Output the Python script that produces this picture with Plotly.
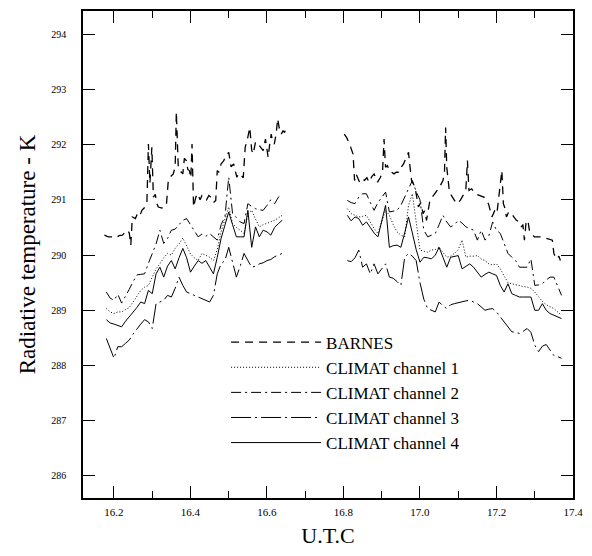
import plotly.graph_objects as go

# UTC hours, CLIMAT channels sampled every 0.01 h on two passes
climat_x_left = [round(16.18 + 0.01 * i, 2) for i in range(47)]
climat_x_right = [round(16.81 + 0.01 * i, 2) for i in range(57)]

ch1_left = [289.03, 288.97, 288.94, 288.97, 288.97, 289.01, 289.05, 289.15, 289.25, 289.36,
            289.42, 289.45, 289.60, 289.75, 289.84, 289.95, 290.03, 290.00, 290.12, 290.20,
            290.31, 290.15, 290.02, 289.95, 289.90, 290.03, 290.00, 289.96, 289.90, 290.10,
            290.42, 290.65, 290.87, 290.57, 290.50, 290.45, 290.39, 290.75, 290.81, 290.65,
            290.51, 290.55, 290.57, 290.60, 290.63, 290.68, 290.72]
ch2_left = [289.33, 289.22, 289.18, 289.29, 289.13, 289.25, 289.38, 289.52, 289.64, 289.65,
            289.66, 289.85, 290.02, 290.20, 290.45, 290.21, 290.30, 290.45, 290.47, 290.55,
            290.63, 290.66, 290.55, 290.42, 290.33, 290.38, 290.34, 290.39, 290.33, 290.27,
            290.55, 290.69, 291.41, 290.75, 290.68, 290.60, 290.57, 290.93, 290.88, 290.84,
            290.82, 290.81, 290.90, 291.00, 290.93, 291.05, 291.11]
ch3_left = [288.49, 288.31, 288.13, 288.34, 288.34, 288.40, 288.46, 288.57, 288.67, 288.75,
            288.83, 288.79, 288.67, 289.12, 289.15, 289.18, 289.27, 289.24, 289.40, 289.60,
            289.45, 289.33, 289.30, 289.27, 289.24, 289.21, 289.18, 289.15, 289.27, 289.66,
            289.84, 289.90, 290.14, 289.85, 289.60, 289.80, 290.03, 289.90, 289.78, 289.80,
            289.84, 289.86, 289.90, 289.92, 289.97, 290.00, 290.03]
ch4_left = [288.83, 288.77, 288.75, 288.72, 288.70, 288.80, 288.88, 288.97, 289.05, 289.15,
            289.12, 289.36, 289.30, 289.66, 289.78, 289.60, 289.80, 289.90, 289.75, 289.95,
            290.12, 289.95, 289.69, 289.80, 289.90, 289.85, 289.90, 289.78, 289.66, 289.96,
            290.30, 290.54, 290.78, 290.55, 290.33, 290.33, 290.33, 290.81, 290.14, 290.51,
            290.33, 290.45, 290.42, 290.36, 290.50, 290.57, 290.63]

ch1_right = [290.84, 290.75, 290.72, 290.69, 290.70, 290.72, 290.60, 290.48, 290.39, 290.60,
             290.81, 290.72, 290.55, 290.42, 290.36, 290.33, 290.90, 291.11, 290.60, 290.09,
             290.07, 290.05, 290.09, 290.10, 290.14, 290.05, 289.96, 289.98, 290.03, 290.10,
             290.27, 289.96, 289.98, 289.98, 289.99, 289.93, 289.90, 289.84, 289.82, 289.84,
             289.75, 289.62, 289.50, 289.48, 289.46, 289.45, 289.43, 289.42, 289.40, 289.33,
             289.24, 289.16, 289.10, 289.06, 289.03, 288.97, 288.91]
ch2_right = [290.99, 290.95, 290.93, 291.05, 291.11, 291.11, 290.95, 290.81, 290.95, 291.05,
             291.14, 290.78, 290.80, 290.81, 290.90, 291.05, 291.20, 291.35, 291.15, 291.00,
             290.45, 290.33, 290.36, 290.39, 290.55, 290.72, 290.60, 290.51, 290.55, 290.63,
             290.58, 290.51, 290.48, 290.45, 290.27, 290.45, 290.27, 290.35, 290.60, 290.45,
             290.39, 290.20, 290.03, 289.96, 289.90, 289.78, 289.78, 289.78, 289.93, 289.45,
             289.46, 289.48, 289.55, 289.60, 289.60, 289.45, 289.27]
ch3_right = [289.90, 289.88, 289.95, 290.09, 289.78, 289.84, 289.66, 289.84, 289.66, 289.76,
             289.84, 289.60, 289.58, 289.52, 289.45, 289.96, 290.03, 289.98, 289.90, 289.50,
             289.20, 289.03, 289.00, 288.97, 289.15, 289.08, 289.03, 289.10, 289.12, 289.14,
             289.15, 289.17, 289.18, 289.15, 289.12, 289.06, 289.00, 289.02, 289.03, 288.97,
             288.88, 288.78, 288.68, 288.61, 288.60, 288.58, 288.62, 288.67, 288.60, 288.37,
             288.25, 288.35, 288.38, 288.28, 288.18, 288.16, 288.13]
ch4_right = [290.72, 290.62, 290.69, 290.66, 290.54, 290.60, 290.50, 290.40, 290.33, 290.60,
             290.90, 290.14, 290.17, 290.18, 290.14, 290.40, 290.69, 290.40, 290.10, 289.87,
             289.96, 289.95, 289.93, 290.00, 290.14, 289.96, 289.78, 289.96, 289.97, 289.99,
             289.75, 289.80, 289.84, 289.78, 289.70, 289.60, 289.65, 289.69, 289.66, 289.63,
             289.45, 289.33, 289.48, 289.30, 289.27, 289.24, 289.24, 289.24, 289.24, 289.00,
             289.00, 289.12, 289.00, 288.94, 288.91, 288.88, 288.85]

# BARNES analysis, finer sampling
barnes_x_left = [16.175, 16.185, 16.196, 16.205, 16.213, 16.222, 16.230, 16.235, 16.240, 16.244,
                 16.248, 16.256, 16.262, 16.268, 16.273, 16.280, 16.286, 16.290, 16.294, 16.299,
                 16.303, 16.308, 16.312, 16.316, 16.325, 16.332, 16.337, 16.342, 16.348, 16.355,
                 16.360, 16.363, 16.368, 16.372, 16.376, 16.380, 16.384, 16.389, 16.393, 16.397,
                 16.401, 16.404, 16.408, 16.414, 16.419, 16.425, 16.430, 16.436, 16.442, 16.448,
                 16.453, 16.460, 16.466, 16.470, 16.474, 16.480, 16.487, 16.493, 16.500, 16.506,
                 16.513, 16.517, 16.521, 16.527, 16.534, 16.538, 16.543, 16.549, 16.555, 16.560,
                 16.564, 16.570, 16.577, 16.583, 16.590, 16.596, 16.603, 16.607, 16.611, 16.615,
                 16.619, 16.624, 16.628, 16.632, 16.637, 16.642, 16.646, 16.650]
barnes_left = [290.36, 290.33, 290.33, 290.31, 290.35, 290.36, 290.42, 290.45, 290.40, 290.18,
               290.69, 290.66, 290.76, 290.72, 290.81, 290.86, 290.93, 292.01, 291.30, 291.95,
               291.05, 291.10, 290.93, 290.87, 290.85, 290.88, 290.90, 291.35, 291.42, 291.47,
               291.60, 292.59, 291.60, 291.53, 291.50, 291.47, 291.75, 291.71, 291.55, 291.53,
               291.40, 292.01, 290.87, 291.05, 291.11, 291.00, 291.08, 291.05, 291.00, 291.08,
               291.05, 290.95, 290.99, 291.53, 291.50, 291.65, 291.71, 291.80, 291.86, 291.60,
               291.65, 291.50, 291.41, 291.48, 291.44, 291.40, 291.95, 292.10, 292.31, 291.90,
               291.83, 292.05, 292.01, 291.95, 291.89, 292.10, 291.77, 292.00, 292.19, 292.05,
               292.01, 292.20, 292.47, 292.30, 292.19, 292.25, 292.22, 292.31]
barnes_x_right = [16.802, 16.808, 16.816, 16.825, 16.829, 16.833, 16.842, 16.848, 16.855, 16.861,
                  16.867, 16.874, 16.880, 16.889, 16.896, 16.902, 16.906, 16.910, 16.915, 16.919,
                  16.926, 16.932, 16.938, 16.944, 16.950, 16.957, 16.963, 16.970, 16.974, 16.978,
                  16.987, 16.996, 17.002, 17.008, 17.012, 17.017, 17.026, 17.032, 17.038, 17.045,
                  17.051, 17.060, 17.064, 17.067, 17.070, 17.077, 17.084, 17.090, 17.098, 17.106,
                  17.115, 17.120, 17.124, 17.128, 17.135, 17.141, 17.148, 17.154, 17.160, 17.167,
                  17.173, 17.179, 17.188, 17.195, 17.201, 17.214, 17.218, 17.222, 17.226, 17.232,
                  17.239, 17.245, 17.252, 17.259, 17.265, 17.269, 17.273, 17.277, 17.282, 17.286,
                  17.292, 17.299, 17.308, 17.316, 17.325, 17.333, 17.340, 17.346, 17.350, 17.355,
                  17.359, 17.363, 17.367]
barnes_right = [292.19, 292.13, 292.01, 291.83, 291.35, 291.47, 291.32, 291.38, 291.35, 291.40,
                291.32, 291.42, 291.47, 291.32, 291.40, 291.50, 292.10, 291.59, 291.62, 291.53,
                291.50, 291.47, 291.50, 291.50, 291.58, 291.65, 291.75, 291.86, 291.59, 291.35,
                291.23, 290.87, 290.95, 290.75, 290.80, 290.63, 290.99, 291.05, 291.11, 291.18,
                291.23, 291.35, 291.50, 292.31, 291.59, 291.14, 291.05, 290.99, 290.93, 291.00,
                291.11, 291.20, 291.71, 291.17, 291.20, 291.14, 291.10, 291.08, 291.06, 291.05,
                290.98, 290.93, 290.69, 290.80, 290.75, 291.53, 290.93, 290.85, 290.69, 290.78,
                290.75, 290.70, 290.63, 290.60, 290.51, 290.55, 290.27, 290.57, 290.63, 290.45,
                290.38, 290.33, 290.33, 290.33, 290.31, 290.30, 290.28, 290.27, 290.03, 289.95,
                289.93, 289.98, 289.90]

SERIF = "Liberation Serif"

series = [
    ("BARNES", barnes_x_left, barnes_left, barnes_x_right, barnes_right, "8px,6px", 1.3),
    ("CLIMAT channel 1", climat_x_left, ch1_left, climat_x_right, ch1_right, "1px,2px", 1),
    ("CLIMAT channel 2", climat_x_left, ch2_left, climat_x_right, ch2_right, "10px,4px,2px,4px", 1),
    ("CLIMAT channel 3", climat_x_left, ch3_left, climat_x_right, ch3_right, "20px,4px,2px,4px", 1),
    ("CLIMAT channel 4", climat_x_left, ch4_left, climat_x_right, ch4_right, "solid", 1),
]

fig = go.Figure()
for name, xl, yl, xr, yr, dash, w in series:
    fig.add_trace(go.Scatter(x=xl + [None] + xr, y=yl + [None] + yr, mode="lines", name=name,
                             connectgaps=False, line=dict(color="black", width=w, dash=dash)))

fig.update_xaxes(range=[16.119, 17.4], tick0=16.2, dtick=0.2, tickformat=".1f",
                 ticks="inside", ticklen=12, tickwidth=1.2, tickcolor="black",
                 minor=dict(dtick=0.1, ticks="inside", ticklen=7, tickcolor="black"),
                 showline=True, linecolor="black", linewidth=1.5, mirror="ticks",
                 showgrid=False, zeroline=False, ticklabelstandoff=3, ticklabeloverflow="allow",
                 tickfont=dict(family=SERIF, size=11, color="black"),
                 title=dict(text="U.T.C", font=dict(family=SERIF, size=22, color="black"), standoff=13))
fig.update_yaxes(range=[285.6, 294.42], dtick=1, ticks="inside", ticklen=12, tickwidth=1.2,
                 tickcolor="black", showline=True, linecolor="black", linewidth=1.5, mirror="ticks",
                 showgrid=False, zeroline=False, ticklabelstandoff=13,
                 tickfont=dict(family=SERIF, size=10, color="black"),
                 title=dict(text="Radiative temperature - K", font=dict(family=SERIF, size=23, color="black"), standoff=9))

# page has an 8px body margin, so the figure is sized to fit inside the window
fig.update_layout(
    width=576, height=540,
    margin=dict(l=75, r=1, t=2, b=50),
    paper_bgcolor="white", plot_bgcolor="white",
    legend=dict(x=0.292, y=0.356, xanchor="left", yanchor="top", itemwidth=90,
                font=dict(family=SERIF, size=17, color="black"), bgcolor="rgba(0,0,0,0)",
                tracegroupgap=0),
)

fig.write_html("out.html")
